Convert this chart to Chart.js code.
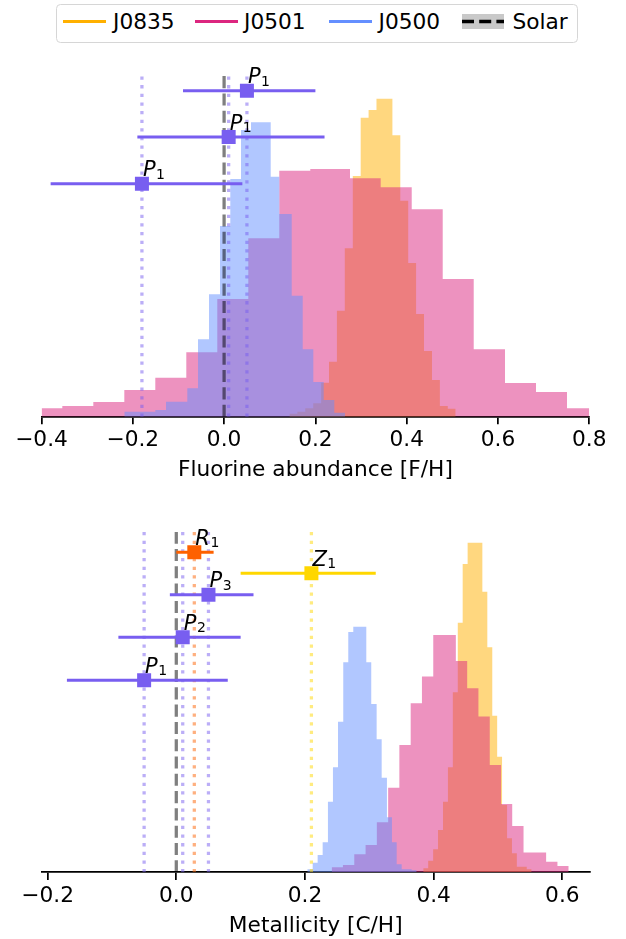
<!DOCTYPE html>
<html><head><meta charset="utf-8">
<script src="https://cdn.jsdelivr.net/npm/chart.js@4/dist/chart.umd.min.js"></script>
<style>
html,body{margin:0;padding:0;background:#fff;width:626px;height:939px;overflow:hidden;font-family:'DejaVu Sans',sans-serif;}
canvas{position:absolute;left:0;}
#c1{top:0;}
#c2{top:490px;}
.lg{position:absolute;}
.lgbox{left:56px;top:4px;width:520px;height:36.5px;border:1.7px solid #d6d6d6;border-radius:4.5px;background:#fff;}
.lgline{height:3.3px;top:19.7px;}
.lgtext{top:10.9px;font-size:21.7px;line-height:21.7px;color:#000;white-space:nowrap;}
</style></head>
<body>
<canvas id="c1" width="626" height="490"></canvas>
<canvas id="c2" width="626" height="449"></canvas>
<div class="lg lgbox"></div>
<div class="lg lgline" style="left:63.3px;width:42.4px;background:#FFB000"></div>
<div class="lg lgtext" style="left:113px">J0835</div>
<div class="lg lgline" style="left:195px;width:42.7px;background:#DC267F"></div>
<div class="lg lgtext" style="left:244px">J0501</div>
<div class="lg lgline" style="left:329px;width:42.5px;background:#648FFF"></div>
<div class="lg lgtext" style="left:378.5px">J0500</div>
<svg class="lg" style="left:462px;top:13.8px" width="42" height="15"><rect x="0" y="0" width="42" height="15" fill="#c9c9c9"/><line x1="0" y1="7.5" x2="42" y2="7.5" stroke="#000" stroke-width="3.3" stroke-dasharray="12 5.2"/></svg>
<div class="lg lgtext" style="left:512.5px">Solar</div>
<script>
// ---------- Top panel: Fluorine abundance [F/H] ----------
const fluorineTicks = [-0.4, -0.2, 0.0, 0.2, 0.4, 0.6, 0.8];
const fluorineRange = [-0.4, 0.8];
const fluorineYMax = 342.2;

const fluorineJ0835Edges = [0.1430,0.1604,0.1777,0.1952,0.2125,0.2298,0.2471,0.2644,0.2819,0.2992,0.3165,0.3338,0.3511,0.3687,0.3860,0.4033,0.4206,0.4379,0.4554,0.4727,0.4900,0.5073];
const fluorineJ0835Counts = [3,5,8.4,13.4,34,55,106,168.4,240.7,299,306.7,318,318,281.4,216,153.7,102.7,65.7,36.7,10.7,8];

const fluorineJ0501Edges = [-0.4000,-0.3544,-0.2865,-0.2186,-0.1507,-0.0828,-0.0149,0.0530,0.1209,0.1888,0.2758,0.3430,0.4110,0.4789,0.5468,0.6153,0.6833,0.7512,0.8000];
const fluorineJ0501Counts = [8.4,10.7,14.7,26.7,39,64.4,117.7,178.4,246,247.7,238.4,229.4,207.4,137.7,67.4,33.7,24.7,8.4];

const fluorineJ0500Edges = [-0.2186,-0.1963,-0.1733,-0.1507,-0.1273,-0.1038,-0.0806,-0.0572,-0.0331,-0.0090,0.0136,0.0370,0.0589,0.0808,0.1021,0.1209,0.1481,0.1722,0.1954,0.2182,0.2414,0.2648];
const fluorineJ0500Counts = [5,5,5,6.7,15,15,28.4,77.4,122.4,190.7,237.7,286.7,294.4,294.4,240,202.7,121,67.4,34.7,16.7,4];

const fluorinePointNames = ['P','P','P'];
const fluorinePointSubs = ['1','1','1'];
const fluorinePointValues = [0.05, 0.01, -0.18];
const fluorinePointLows = [-0.09, -0.19, -0.38];
const fluorinePointHighs = [0.20, 0.22, 0.04];
const fluorinePointLevels = [326, 279.7, 233];

// ---------- Bottom panel: Metallicity [C/H] ----------
const metalTicks = [-0.2, 0.0, 0.2, 0.4, 0.6];
const metalRange = [-0.2095, 0.643];
const metalYMax = 340.3;

const metalJ0835Edges = [0.3838,0.3915,0.3992,0.4068,0.4145,0.4222,0.4298,0.4375,0.4451,0.4528,0.4605,0.4681,0.4757,0.4834,0.4911,0.4987,0.5063,0.5141,0.5217,0.5293,0.5371,0.5447,0.5523];
const metalJ0835Counts = [4,11.6,23,42.3,70.6,105,180,249.6,308.3,329.6,329.6,329.6,280.6,225,156.6,115.6,67.3,34,19,5.6,5.6,3];

const metalJ0501Edges = [0.2415,0.2590,0.2766,0.2942,0.3117,0.3293,0.3467,0.3643,0.3818,0.3994,0.4169,0.4345,0.4521,0.4696,0.4872,0.5047,0.5221,0.5397,0.5573,0.5748,0.5924,0.6099];
const metalJ0501Counts = [5,7.3,18,27.3,50,84.6,127.3,169,195.7,237.3,237.3,211.3,184,155.7,107.3,68.3,46.3,19.7,19.7,10.6,6.3];

const metalJ0500Edges = [0.2036,0.2120,0.2197,0.2275,0.2357,0.2435,0.2513,0.2595,0.2673,0.2751,0.2852,0.2953,0.3030,0.3114,0.3192,0.3274,0.3352,0.3425,0.3503,0.3580,0.3658,0.3736];
const metalJ0500Counts = [3,9.6,17.3,30,70.6,105,150.6,210,240.3,245.6,245.6,210,168.3,133,94.6,55,30,8,3,3,2];

const metalPointNames = ['R','Z','P','P','P'];
const metalPointSubs = ['1','1','3','2','1'];
const metalPointValues = [0.028, 0.21, 0.05, 0.01, -0.05];
const metalPointLows = [0.0, 0.10, -0.01, -0.09, -0.17];
const metalPointHighs = [0.058, 0.31, 0.12, 0.10, 0.08];
const metalPointLevels = [320, 299, 277.6, 235, 192];

const solarValue = 0.0;

// ---------- styles ----------
const COL = {J0835:'#FFB000', J0501:'#DC267F', J0500:'#648FFF'};
const FILL = {J0835:'rgba(255,176,0,0.5)', J0501:'rgba(220,38,127,0.5)', J0500:'rgba(100,143,255,0.5)'};
const fluorinePointColors = ['#785EF0','#785EF0','#785EF0'];
const metalPointColors = ['#FE6100','#FFD700','#785EF0','#785EF0','#785EF0'];
function alpha(hex, a){const n=parseInt(hex.slice(1),16);return `rgba(${n>>16},${(n>>8)&255},${n&255},${a})`;}

const FONT = 'DejaVu Sans';
const FS = 21.7;

function histDataset(edges, counts, fill, order){
  const pts = counts.map((c,i)=>({x:edges[i], y:c}));
  pts.push({x:edges[edges.length-1], y:0});
  return {data:pts, stepped:'before', fill:'origin', backgroundColor:fill,
    borderColor:'rgba(0,0,0,0)', borderWidth:0, pointRadius:0, order};
}
function vline(x, yMax, color, width, dash, order){
  return {data:[{x, y:0},{x, y:yMax}], borderColor:color, borderWidth:width,
    borderDash:dash, pointRadius:0, fill:false, order};
}
function pointDatasets(vals, lows, highs, levels, colors, yMax){
  const ds = [];
  vals.forEach((v,i)=>{
    ds.push(vline(v, yMax, alpha(colors[i],0.5), 3.26, [3.26,5.38], 20));
  });
  ds.push(vline(solarValue, yMax, 'rgba(0,0,0,0.5)', 3.26, [12.07,5.22], 15));
  vals.forEach((v,i)=>{
    ds.push({data:[{x:lows[i],y:levels[i]},{x:highs[i],y:levels[i]}], borderColor:colors[i],
      borderWidth:3.1, pointRadius:0, fill:false, order:10});
  });
  vals.forEach((v,i)=>{
    ds.push({data:[{x:v,y:levels[i]}], showLine:false, pointStyle:'rect', pointRadius:9.9,
      backgroundColor:colors[i], borderWidth:0, order:5});
  });
  return ds;
}

const labelPlugin = {
  id:'pointLabels',
  afterDatasetsDraw(chart, args, opts){
    const {ctx} = chart; const xs = chart.scales.x, ys = chart.scales.y;
    ctx.save();
    ctx.fillStyle = '#000'; ctx.textBaseline = 'alphabetic'; ctx.textAlign='left';
    opts.names.forEach((n,i)=>{
      const px = xs.getPixelForValue(opts.values[i]);
      const py = ys.getPixelForValue(opts.levels[i]);
      const bx = px + 1, by = py - 7.5;
      ctx.font = `italic 21px "${FONT}"`;
      ctx.fillText(n, bx, by);
      const w = ctx.measureText(n).width;
      ctx.font = `14px "${FONT}"`;
      ctx.fillText(opts.subs[i], bx + w + 0.5, by + 2.5);
    });
    ctx.restore();
  }
};

function fmt(v){ const s = Math.abs(v).toFixed(1); return (v < -1e-9 ? '\u2212' : '') + s; }

function makeChart(id, cfg){
  const {range, ticks, yMax, title, pad, axisH, titlePad, hist, points, labels} = cfg;
  return new Chart(document.getElementById(id), {
    type:'line',
    data:{datasets:[...hist, ...points]},
    plugins:[labelPlugin],
    options:{
      responsive:false, animation:false, events:[],
      layout:{padding:pad},
      plugins:{legend:{display:false}, tooltip:{enabled:false}, pointLabels:labels},
      scales:{
        x:{type:'linear', min:range[0], max:range[1], z:1,
          afterBuildTicks:(s)=>{ s.ticks = ticks.map(v=>({value:v})); },
          afterFit:(s)=>{ s.height = axisH; },
          ticks:{callback:(v)=>fmt(v), color:'#000', font:{family:FONT, size:FS}, padding:3, maxRotation:0, autoSkip:false},
          grid:{display:true, drawOnChartArea:false, drawTicks:true, tickLength:7.6, tickWidth:1.74, tickColor:'#000', lineWidth:1.74, color:'#000'},
          border:{display:true, color:'#000', width:1.74},
          title:{display:true, text:title, color:'#000', font:{family:FONT, size:FS}, padding:{top:0, bottom:titlePad}}
        },
        y:{type:'linear', display:false, min:0, max:yMax}
      }
    }
  });
}

makeChart('c1', {
  range:fluorineRange, ticks:fluorineTicks, yMax:fluorineYMax, title:'Fluorine abundance [F/H]',
  pad:{left:41.5, right:36.7, top:74.5, bottom:0}, axisH:73.3, titlePad:7,
  hist:[histDataset(fluorineJ0835Edges, fluorineJ0835Counts, FILL.J0835, 32),
        histDataset(fluorineJ0501Edges, fluorineJ0501Counts, FILL.J0501, 31),
        histDataset(fluorineJ0500Edges, fluorineJ0500Counts, FILL.J0500, 30)],
  points:pointDatasets(fluorinePointValues, fluorinePointLows, fluorinePointHighs, fluorinePointLevels, fluorinePointColors, fluorineYMax),
  labels:{names:fluorinePointNames, subs:fluorinePointSubs, values:fluorinePointValues, levels:fluorinePointLevels}
});

makeChart('c2', {
  range:metalRange, ticks:metalTicks, yMax:metalYMax, title:'Metallicity [C/H]',
  pad:{left:41.5, right:36, top:42, bottom:0}, axisH:66.7, titlePad:0,
  hist:[histDataset(metalJ0835Edges, metalJ0835Counts, FILL.J0835, 32),
        histDataset(metalJ0501Edges, metalJ0501Counts, FILL.J0501, 31),
        histDataset(metalJ0500Edges, metalJ0500Counts, FILL.J0500, 30)],
  points:pointDatasets(metalPointValues, metalPointLows, metalPointHighs, metalPointLevels, metalPointColors, metalYMax),
  labels:{names:metalPointNames, subs:metalPointSubs, values:metalPointValues, levels:metalPointLevels}
});
</script>
</body></html>
